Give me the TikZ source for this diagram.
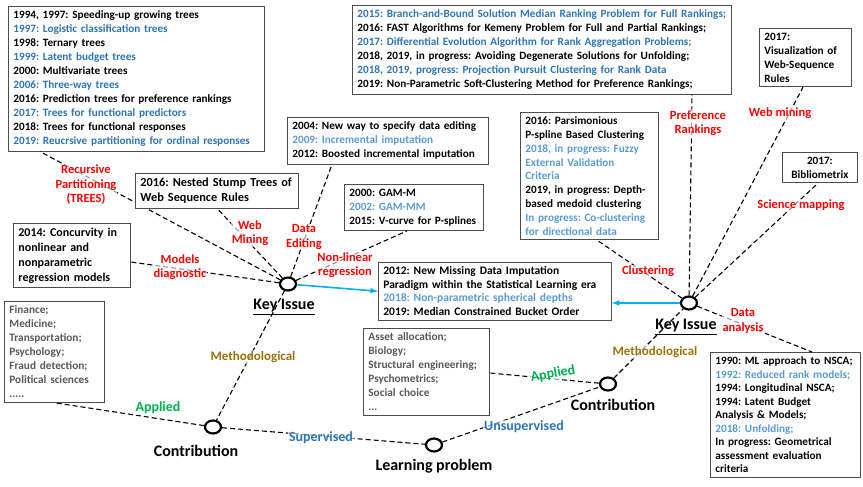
\documentclass[tikz,border=0pt]{standalone}
\usepackage{fontspec}
\setmainfont{Carlito}
\usepackage{tikz}
\usetikzlibrary{shapes.geometric}

\definecolor{darkblue}{RGB}{46,117,182}
\definecolor{lightblue}{RGB}{91,155,213}
\definecolor{arrowblue}{RGB}{0,176,240}
\definecolor{methgold}{RGB}{153,115,10}
\definecolor{appgreen}{RGB}{0,176,80}
\definecolor{listgray}{RGB}{89,89,89}
\newcommand{\dblue}[1]{\textcolor{darkblue}{#1}}
\newcommand{\lblue}[1]{\textcolor{lightblue}{#1}}

\begin{document}
\frenchspacing
\begin{tikzpicture}[x=1pt, y=-1pt,
  key_node/.style={ellipse, draw, line width=2.2pt, minimum width=16pt, minimum height=13pt, inner sep=0pt},
  box_node/.style={draw=black!70, fill=white, line width=0.8pt, anchor=north west, align=left, inner xsep=5pt, inner ysep=4.5pt, font=\bfseries\fontsize{11.2}{14}\selectfont},
  list_node/.style={box_node, text=listgray, font=\bfseries\fontsize{11.3}{14}\selectfont},
  red_label/.style={text=red, align=center, font=\bfseries\fontsize{12.5}{14.5}\selectfont, fill=white, fill opacity=0.6, text opacity=1, inner sep=1pt},
  title_node/.style={font=\bfseries\fontsize{16}{18}\selectfont},
  link/.style={dash pattern=on 5pt off 3pt, line width=1.1pt},
  arrow_link/.style={arrowblue, line width=1.6pt, -latex}]

    \useasboundingbox (0,0) rectangle (863,487);

    \node[key_node] (1) at (288, 284) {};
    \node[key_node] (2) at (213, 427) {};
    \node[key_node] (3) at (689, 303) {};
    \node[key_node] (4) at (434, 445) {};
    \node[key_node] (5) at (608, 384) {};

    \node[box_node, text width=246pt] (6) at (8, 6) {1994, 1997: Speeding-up growing trees\\ \dblue{1997: Logistic classification trees}\\ 1998: Ternary trees\\ \dblue{1999: Latent budget trees}\\ 2000: Multivariate trees\\ \dblue{2006: Three-way trees}\\ 2016: Prediction trees for preference rankings\\ \dblue{2017: Trees for functional predictors}\\ 2018: Trees for functional responses\\ \dblue{2019: Reucrsive partitioning for ordinal responses}};
    \draw[link] (1) -- (6.south -| 40,0);

    \node[box_node, text width=369pt] (7) at (352, 5) {\dblue{2015: Branch-and-Bound Solution Median Ranking Problem for Full Rankings;}\\ 2016: FAST Algorithms for Kemeny Problem for Full and Partial Rankings;\\ \dblue{2017: Differential Evolution Algorithm for Rank Aggregation Problems;}\\ 2018, 2019, in progress: Avoiding Degenerate Solutions for Unfolding;\\ \dblue{2018, 2019, progress: Projection Pursuit Clustering for Rank Data}\\ 2019: Non-Parametric Soft-Clustering Method for Preference Rankings;};
    \node[box_node, text width=82pt] (8) at (759, 28) {2017:\\ Visualization of\\ Web-Sequence\\ Rules};
    \node[box_node, text width=191pt] (9) at (287, 117) {2004: New way to specify data editing\\ \lblue{2009: Incremental imputation}\\ 2012: Boosted incremental imputation};
    \node[box_node, text width=129pt] (10) at (344, 184) {2000: GAM-M\\ \lblue{2002: GAM-MM}\\ 2015: V-curve for P-splines};
    \node[box_node, text width=128pt, font=\bfseries\fontsize{11.2}{13.8}\selectfont] (11) at (520, 112) {2016: Parsimonious\\ P-spline Based Clustering\\ \lblue{2018, in progress: Fuzzy}\\ \lblue{External Validation}\\ \lblue{Criteria}\\ 2019, in progress: Depth-\\ based medoid clustering\\ \lblue{In progress: Co-clustering}\\ \lblue{for directional data}};
    \node[box_node, text width=65pt, align=center] (12) at (782, 152) {2017:\\ Bibliometrix};
    \node[box_node, text width=153pt, font=\bfseries\fontsize{12.3}{15}\selectfont] (13) at (135, 173) {2016: Nested Stump Trees of\\ Web Sequence Rules};
    \node[box_node, text width=107pt, font=\bfseries\fontsize{12}{15}\selectfont] (14) at (13, 223) {2014: Concurvity in\\ nonlinear and\\ nonparametric\\ regression models};
    \node[list_node, text width=90pt] (15) at (4, 301) {Finance;\\ Medicine;\\ Transportation;\\ Psychology;\\ Fraud detection;\\ Political sciences\\ .....};
    \node[list_node, text width=116pt] (16) at (363, 328) {Asset allocation;\\ Biology;\\ Structural engineering;\\ Psychometrics;\\ Social choice\\ ...};
    \node[box_node, text width=223pt, font=\bfseries\fontsize{11.5}{13.5}\selectfont] (17) at (378, 262) {2012: New Missing Data Imputation\\ Paradigm within the Statistical Learning era\\ \lblue{2018: Non-parametric spherical depths}\\ 2019: Median Constrained Bucket Order};
    \node[box_node, text width=140pt, font=\bfseries\fontsize{11.2}{13.5}\selectfont] (18) at (710, 352) {1990: ML approach to NSCA;\\ \lblue{1992: Reduced rank models;}\\ 1994: Longitudinal NSCA;\\ 1994: Latent Budget\\ Analysis \& Models;\\ \lblue{2018: Unfolding;}\\ In progress: Geometrical\\ assessment evaluation\\ criteria};

    \draw[link] (1) -- (13.south -| 217,0);
    \draw[link] (1) -- (9.south -| 332,0);
    \draw[link] (1) -- (10.south -| 407,0);
    \draw[link] (1) -- (14.east |- 0,262);
    \draw[link] (1) -- (2);
    \draw[link] (2) -- (15.south -| 55,0);
    \draw[link] (2) -- (4);
    \draw[link] (4) -- (5);
    \draw[link] (5) -- (16.east |- 0,373);
    \draw[link] (5) -- (3);
    \draw[link] (3) -- (7.south -| 692,0);
    \draw[link] (3) -- (8.south -| 803,0);
    \draw[link] (3) -- (12.south -| 818,0);
    \draw[link] (3) -- (11.south -| 597,0);
    \draw[link] (3) -- (18.north -| 812,0);
    \draw[arrow_link] (1) -- (17.west);
    \draw[arrow_link] (3) -- (17.east |- 3);

    \node[title_node] (19) at (284, 307) {\underline{Key Issue}};
    \node[title_node] (20) at (686, 327) {\underline{Key Issue}};
    \node[title_node] (21) at (196, 451) {Contribution};
    \node[title_node] (22) at (613, 405) {Contribution};
    \node[title_node] (23) at (434, 466) {Learning problem};

    \node[red_label] (24) at (86, 185) {Recursive\\Partitioning\\(TREES)};
    \node[red_label] (25) at (250, 233) {Web\\Mining};
    \node[red_label] (26) at (304, 237) {Data\\Editing};
    \node[red_label] (27) at (345, 265) {Non-linear\\regression};
    \node[red_label] (28) at (180, 267) {Models\\diagnostic};
    \node[red_label] (29) at (698, 123) {Preference\\Rankings};
    \node[red_label] (30) at (780, 113) {Web mining};
    \node[red_label] (31) at (801, 205) {Science mapping};
    \node[red_label] (32) at (648, 271) {Clustering};
    \node[red_label] (33) at (743, 321) {Data\\analysis};
    \node[red_label, text=methgold, font=\bfseries\fontsize{13}{15}\selectfont] (34) at (655, 352) {Methodological};
    \node[red_label, text=methgold, font=\bfseries\fontsize{13}{15}\selectfont] (35) at (253, 357) {Methodological};
    \node[red_label, text=appgreen, font=\bfseries\fontsize{14}{15}\selectfont] (36) at (158, 408) {Applied};
    \node[red_label, text=appgreen, font=\bfseries\fontsize{14}{15}\selectfont, rotate=10] (37) at (553, 374) {Applied};
    \node[red_label, text=darkblue, font=\bfseries\fontsize{14}{15}\selectfont] (38) at (321, 438) {Supervised};
    \node[red_label, text=darkblue, font=\bfseries\fontsize{14}{15}\selectfont] (39) at (524, 427) {Unsupervised};
\end{tikzpicture}
\end{document}
